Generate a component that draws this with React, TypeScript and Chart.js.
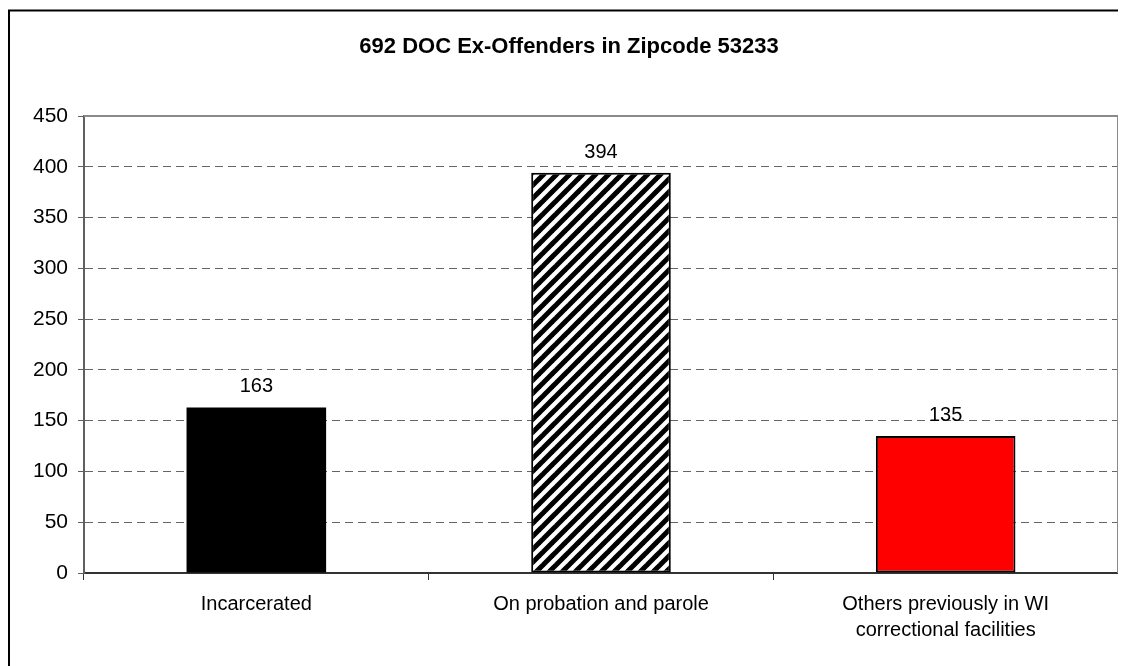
import React, { useEffect, useRef } from "react";
import { Chart, registerables } from "chart.js";

Chart.register(...registerables);

const TITLE = "692 DOC Ex-Offenders in Zipcode 53233";
const categories: (string | string[])[] = [
  "Incarcerated",
  "On probation and parole",
  ["Others previously in WI", "correctional facilities"],
];
const values: number[] = [163, 394, 135];
const yMin = 0;
const yMax = 450;
const yStep = 50;

const FONT = "'Liberation Sans', Arial, Helvetica, sans-serif";

function makeHatch(): CanvasPattern | string {
  const size = 13;
  const c = document.createElement("canvas");
  c.width = size;
  c.height = size;
  const g = c.getContext("2d");
  if (!g) return "#000";
  g.fillStyle = "#fff";
  g.fillRect(0, 0, size, size);
  g.strokeStyle = "#000";
  g.lineWidth = 5;
  g.lineCap = "square";
  for (const off of [-size, 0, size]) {
    g.beginPath();
    g.moveTo(off, size);
    g.lineTo(off + size, 0);
    g.stroke();
  }
  const p = g.createPattern(c, "repeat");
  return p || "#000";
}

export default function App() {
  const ref = useRef<HTMLCanvasElement | null>(null);

  useEffect(() => {
    if (!ref.current) return;
    const hatch = makeHatch();

    const decor = {
      id: "decor",
      afterDatasetsDraw(chart: any) {
        const ctx = chart.ctx;
        ctx.save();
        const meta = chart.getDatasetMeta(0);
        ctx.fillStyle = "#000";
        ctx.font = `20px ${FONT}`;
        ctx.textAlign = "center";
        ctx.textBaseline = "alphabetic";
        meta.data.forEach((bar: any, i: number) => {
          ctx.fillText(String(values[i]), bar.x, bar.y - 15);
        });
        ctx.restore();
      },
      afterDraw(chart: any) {
        const ctx = chart.ctx;
        const area = chart.chartArea;
        ctx.save();
        ctx.strokeStyle = "#8a8a8a";
        ctx.lineWidth = 2;
        ctx.beginPath();
        ctx.moveTo(area.left, area.top);
        ctx.lineTo(area.right, area.top);
        ctx.lineTo(area.right, area.bottom);
        ctx.stroke();
        ctx.strokeStyle = "#000";
        ctx.lineWidth = 2;
        ctx.beginPath();
        ctx.moveTo(1, chart.height);
        ctx.lineTo(1, 2.5);
        ctx.lineTo(chart.width, 2.5);
        ctx.stroke();
        ctx.fillStyle = "#000";
        ctx.font = `bold 22px ${FONT}`;
        ctx.textAlign = "center";
        ctx.textBaseline = "alphabetic";
        ctx.fillText(TITLE, 561, 45);
        ctx.restore();
      },
    };

    const chart = new Chart(ref.current, {
      type: "bar",
      data: {
        labels: categories as any,
        datasets: [
          {
            data: values,
            backgroundColor: ["#000000", hatch as any, "#ff0000"],
            borderColor: "#000000",
            borderWidth: [0, 2, 2],
            borderSkipped: false,
            categoryPercentage: 1,
            barPercentage: 0.405,
          },
        ],
      },
      options: {
        responsive: false,
        animation: false,
        events: [],
        layout: { padding: { left: 0, top: 108, right: 16, bottom: 0 } },
        plugins: {
          legend: { display: false },
          title: { display: false },
          tooltip: { enabled: false },
        },
        scales: {
          x: {
            offset: true,
            afterFit(scale: any) {
              scale.height = 101;
            },
            grid: {
              display: true,
              drawOnChartArea: false,
              drawTicks: true,
              tickLength: 7,
              tickColor: "#333",
              tickWidth: 1,
              offset: true,
            },
            border: { display: true, color: "#333", width: 2 },
            ticks: {
              color: "#000",
              font: { family: FONT, size: 20, lineHeight: 1.3 },
              padding: 11,
              maxRotation: 0,
              autoSkip: false,
            },
          },
          y: {
            min: yMin,
            max: yMax,
            afterFit(scale: any) {
              scale.width = 76;
            },
            grid: {
              color: "#666666",
              lineWidth: 1,
              drawTicks: true,
              tickLength: 6,
              tickColor: "#606060",
              tickWidth: 1,
              tickBorderDash: [1, 0],
            },
            border: { display: true, color: "#606060", width: 2, dash: [8, 5] },
            ticks: {
              stepSize: yStep,
              color: "#000",
              font: { family: FONT, size: 21 },
              padding: 10,
            },
          },
        },
      },
      plugins: [decor],
    });

    return () => chart.destroy();
  }, []);

  return (
    <div style={{ width: 1126, height: 666 }}>
      <canvas ref={ref} width={1126} height={666} style={{ display: "block" }} />
    </div>
  );
}
